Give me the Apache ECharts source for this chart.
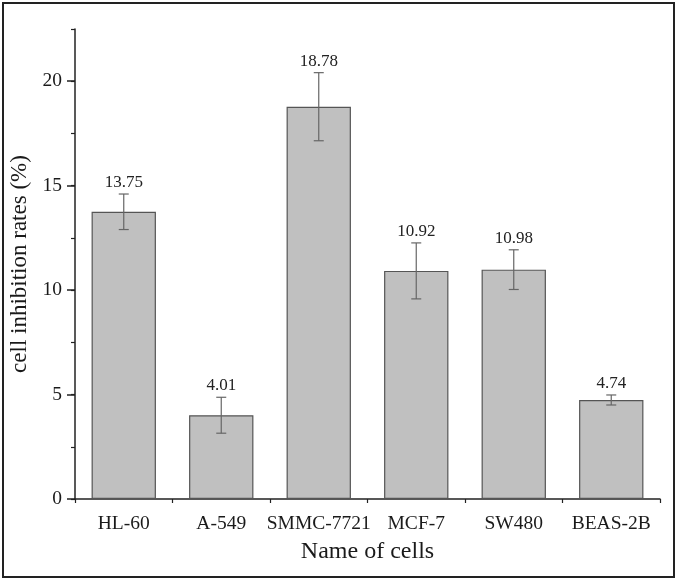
<!DOCTYPE html>
<html>
<head>
<meta charset="utf-8">
<script src="https://cdn.jsdelivr.net/npm/echarts@6/dist/echarts.min.js"></script>
<style>html,body{margin:0;padding:0;background:#fff}#c{width:677px;height:581px}</style>
</head>
<body>
<div id="c"></div>
<script>
const categories = ['HL-60', 'A-549', 'SMMC-7721', 'MCF-7', 'SW480', 'BEAS-2B'];
const values = [13.75, 4.01, 18.78, 10.92, 10.98, 4.74];
const errors = [0.85, 0.86, 1.63, 1.34, 0.95, 0.24];
const yTicks = [0, 5, 10, 15, 20];

const FONT = '"Liberation Serif", "DejaVu Serif", serif';
const errData = categories.map((c, i) => [i, values[i] - errors[i], values[i] + errors[i], values[i]]);

const chart = echarts.init(document.getElementById('c'));
chart.setOption({
  animation: false,
  backgroundColor: '#fff',
  grid: { left: 75, right: 17, top: 29, bottom: 82, containLabel: false },
  graphic: [{
    type: 'rect', shape: { x: 3, y: 3, width: 671, height: 574 },
    style: { fill: 'none', stroke: '#222', lineWidth: 2 }, silent: true
  }],
  xAxis: [{
    type: 'category', data: categories, position: 'bottom',
    axisLine: { lineStyle: { color: '#222', width: 1.5 } },
    axisTick: { alignWithLabel: true, length: 8, lineStyle: { color: '#222', width: 1.5 } },
    axisLabel: { color: '#1a1a1a', fontSize: 19.5, fontFamily: FONT, margin: 15, interval: 0 },
    name: 'Name of cells', nameLocation: 'middle', nameGap: 41,
    nameTextStyle: { color: '#1a1a1a', fontSize: 24, fontFamily: FONT }
  }, {
    type: 'category', data: categories, position: 'bottom',
    axisLine: { show: false },
    axisTick: { show: true, length: 4, lineStyle: { color: '#222', width: 1.2 } },
    axisLabel: { show: false }
  }],
  yAxis: [{
    type: 'value', min: 0, max: 22.5, interval: 5,
    axisLine: { show: true, lineStyle: { color: '#222', width: 1.5 } },
    axisTick: { show: true, length: 8, customValues: yTicks, lineStyle: { color: '#222', width: 1.5 } },
    axisLabel: { color: '#1a1a1a', fontSize: 19.5, fontFamily: FONT, margin: 13, customValues: yTicks },
    splitLine: { show: false },
    name: 'cell inhibition rates (%)', nameLocation: 'middle', nameGap: 42,
    nameTextStyle: { color: '#1a1a1a', fontSize: 23, fontFamily: FONT }
  }, {
    type: 'value', min: 0, max: 22.5, interval: 2.5, position: 'left',
    axisLine: { show: false },
    axisTick: { show: true, length: 4, lineStyle: { color: '#222', width: 1.2 } },
    axisLabel: { show: false },
    splitLine: { show: false }
  }],
  series: [{
    type: 'bar', data: values, barWidth: '66%', xAxisIndex: 0, yAxisIndex: 0,
    itemStyle: { color: '#c0c0c0', borderColor: '#555', borderWidth: 1.2 }
  }, {
    type: 'custom', data: errData, xAxisIndex: 0, yAxisIndex: 0, z: 10,
    renderItem: function (params, api) {
      const lo = api.coord([api.value(0), api.value(1)]);
      const hi = api.coord([api.value(0), api.value(2)]);
      const v = values[params.dataIndex];
      const cap = 5;
      const st = { stroke: '#666', lineWidth: 1.2 };
      return {
        type: 'group', children: [
          { type: 'line', shape: { x1: hi[0], y1: hi[1], x2: lo[0], y2: lo[1] }, style: st },
          { type: 'line', shape: { x1: hi[0] - cap, y1: hi[1], x2: hi[0] + cap, y2: hi[1] }, style: st },
          { type: 'line', shape: { x1: lo[0] - cap, y1: lo[1], x2: lo[0] + cap, y2: lo[1] }, style: st },
          { type: 'text', style: { text: v.toFixed(2), x: hi[0], y: hi[1] - 3, align: 'center', verticalAlign: 'bottom',
            fontSize: 17, fontFamily: FONT, fill: '#222' } }
        ]
      };
    }
  }]
});
</script>
</body>
</html>
